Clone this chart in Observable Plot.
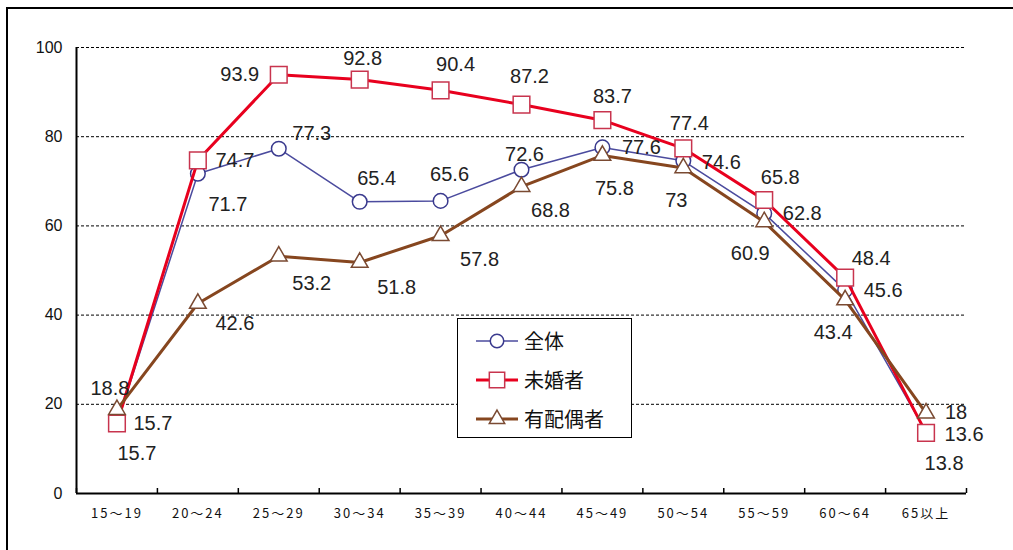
<!DOCTYPE html>
<html>
<head>
<meta charset="utf-8">
<script src="https://cdn.jsdelivr.net/npm/d3@7"></script>
<script src="https://cdn.jsdelivr.net/npm/@observablehq/plot@0.6"></script>
<style>
  body { margin: 0; background: #fff; }
  #wrap { position: relative; width: 1013px; height: 550px; overflow: hidden; background: #fff; }
  #frame { position: absolute; left: 6px; top: 7px; width: 1030px; height: 570px; border-left: 2px solid #000; border-top: 2px solid #000; pointer-events: none; }
  #legend { position: absolute; left: 457px; top: 318px; width: 173px; height: 118px; border: 1.5px solid #000; background: #fff; font-family: "Noto Sans CJK JP", sans-serif; font-size: 20px; color: #111; }
  #legend .row { position: absolute; left: 0; height: 30px; display: flex; align-items: center; }
  #legend svg { margin-left: 18px; }
  #legend span { margin-left: 6px; line-height: 30px; }
  g[aria-label="x-axis tick label"] text { letter-spacing: 2px; }
</style>
</head>
<body>
<div id="wrap"><div id="chart"></div><div id="frame"></div><div id="legend"></div></div>
<script>
// ---- data ----
const categories = ["15～19", "20～24", "25～29", "30～34", "35～39", "40～44", "45～49", "50～54", "55～59", "60～64", "65以上"];
const seriesNames = ["全体", "未婚者", "有配偶者"];
const zentai = [15.7, 71.7, 77.3, 65.4, 65.6, 72.6, 77.6, 74.6, 62.8, 45.6, 13.8];
const mikonsha = [15.7, 74.7, 93.9, 92.8, 90.4, 87.2, 83.7, 77.4, 65.8, 48.4, 13.6];
const haiguusha = [18.8, 42.6, 53.2, 51.8, 57.8, 68.8, 75.8, 73, 60.9, 43.4, 18];
const yTicks = [0, 20, 40, 60, 80, 100];

// ---- styles (label placement offsets in px, per point) ----
const labelOffsets = [
  [[20, 30], [30, 31], [33, -15], [17, -23], [9, -26], [3, -15], [39, 0], [38, 2], [38, 0], [38, 0], [18, 32]],
  [[36, 0], [37, 0], [-39, 0], [3, -21], [15, -26], [8, -28], [10, -24], [6, -25], [16, -22], [26, -19], [38, 2]],
  [[-7, -21], [37, 20], [33, 27], [37, 25], [39, 24], [29, 24], [12, 33], [-7, 33], [-14, 32], [-12, 33], [30, -1]]
];
const seriesStyles = [
  {line: "#4b4b9e", lineWidth: 1.5, marker: "#3a3a8e", symbol: "circle", r: 7.3},
  {line: "#e8001e", lineWidth: 3, marker: "#c8344e", symbol: "square", r: 9.4},
  {line: "#86461f", lineWidth: 3, marker: "#7a4a32", symbol: "triangle", r: 6.2}
];

const seriesValues = [zentai, mikonsha, haiguusha];
const idx = d3.range(categories.length);
const boundaries = d3.range(categories.length + 1).map(i => i - 0.5);

const marks = [
  Plot.gridY({ticks: yTicks.filter(t => t > 0), stroke: "#000", strokeOpacity: 1, strokeWidth: 1, strokeDasharray: "3,2"}),
  Plot.axisY({ticks: yTicks, tickSize: 0, tickPadding: 14, fontSize: 16, fontFamily: "Liberation Sans, Arial, sans-serif", label: null, fill: "#111"}),
  Plot.axisX({ticks: idx, tickSize: 0, tickPadding: 15, tickFormat: i => categories[i], fontSize: 13, fontFamily: "Noto Sans CJK JP, sans-serif", label: null, fill: "#111"}),
  Plot.ruleY([0], {stroke: "#000", strokeWidth: 2}),
  Plot.ruleX([-0.5], {y1: 0, y2: 100, stroke: "#000", strokeWidth: 2}),
  Plot.ruleX(boundaries, {y1: 0, y2: 0, insetTop: -5, stroke: "#000", strokeWidth: 1.5})
];

seriesValues.forEach((vals, s) => {
  const st = seriesStyles[s];
  marks.push(Plot.line(idx, {x: i => i, y: i => vals[i], stroke: st.line, strokeWidth: st.lineWidth}));
  marks.push(Plot.dot(idx, {x: i => i, y: i => vals[i], symbol: st.symbol, r: st.r, fill: "#fff", stroke: st.marker, strokeWidth: 1.5}));
});

seriesValues.forEach((vals, s) => {
  vals.forEach((v, i) => {
    const [dx, dy] = labelOffsets[s][i];
    marks.push(Plot.text([{i, v}], {x: "i", y: "v", text: d => String(d.v), dx, dy, fontSize: 20, fontFamily: "Liberation Sans, Arial, sans-serif", fill: "#222", textAnchor: "middle"}));
  });
});

const chart = Plot.plot({
  width: 1013,
  height: 550,
  marginLeft: 76,
  marginRight: 47,
  marginTop: 47,
  marginBottom: 57,
  x: {type: "linear", domain: [-0.5, categories.length - 0.5], axis: null},
  y: {domain: [0, 100], axis: null},
  style: {background: "transparent", overflow: "visible"},
  marks
});
document.getElementById("chart").appendChild(chart);

// ---- legend ----
const legend = d3.select("#legend");
const rowTops = [7, 46, 85];
seriesNames.forEach((name, s) => {
  const st = seriesStyles[s];
  const row = legend.append("div").attr("class", "row").style("top", rowTops[s] + "px");
  const svg = row.append("svg").attr("width", 42).attr("height", 24);
  svg.append("line").attr("x1", 0).attr("x2", 42).attr("y1", 12).attr("y2", 12).attr("stroke", st.line).attr("stroke-width", st.lineWidth);
  const sym = {circle: d3.symbolCircle, square: d3.symbolSquare, triangle: d3.symbolTriangle}[st.symbol];
  svg.append("path").attr("transform", "translate(21,12)")
    .attr("d", d3.symbol(sym, Math.PI * st.r * st.r * 0.85)())
    .attr("fill", "#fff").attr("stroke", st.marker).attr("stroke-width", 1.5);
  row.append("span").text(name);
});
</script>
</body>
</html>
